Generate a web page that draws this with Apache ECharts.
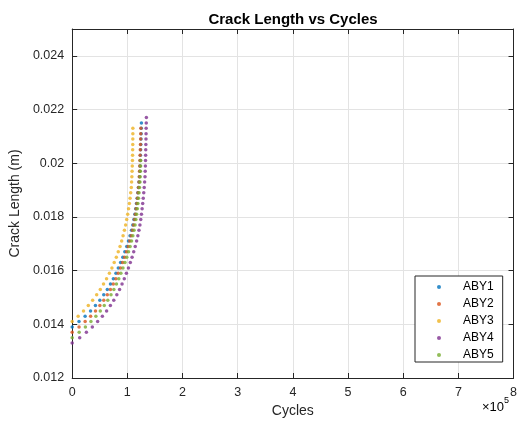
<!DOCTYPE html>
<html>
<head>
<meta charset="utf-8">
<script src="https://cdn.jsdelivr.net/npm/echarts@6/dist/echarts.min.js"></script>
<style>
html,body{margin:0;padding:0;background:#fff;}
#c{width:520px;height:427px;}
</style>
</head>
<body>
<div id="c"></div>
<script>
const seriesNames = ['ABY1', 'ABY2', 'ABY3', 'ABY4', 'ABY5'];
const seriesColors = ['#0072BD', '#D95319', '#EDB120', '#7E2F8E', '#77AC30'];

const ABY1_cycles = [0, 12390, 23440, 33330, 42180, 50120, 57250, 63660, 69440, 74650, 79360, 83610, 87760, 91750, 95430, 98910, 102030, 104910, 107490, 109870, 111880, 113640, 115160, 116550, 117830, 119000, 120070, 121060, 121970, 122510, 122980, 123400, 123760, 124070, 124430, 124750, 125030, 125280, 125500];
const ABY1_crack = [0.0139, 0.0141, 0.0143, 0.0145, 0.0147, 0.0149, 0.0151, 0.0153, 0.0155, 0.0157, 0.0159, 0.0161, 0.0163, 0.0165, 0.0167, 0.0169, 0.0171, 0.0173, 0.0175, 0.0177, 0.0179, 0.0181, 0.0183, 0.0185, 0.0187, 0.0189, 0.0191, 0.0193, 0.0195, 0.0197, 0.0199, 0.0201, 0.0203, 0.0205, 0.0207, 0.0209, 0.0211, 0.0213, 0.0215];

const ABY2_cycles = [0, 12440, 23520, 33400, 42250, 50170, 57270, 63650, 69390, 74560, 79220, 83430, 87540, 91480, 95110, 98540, 101620, 104470, 107000, 109350, 111320, 113040, 114530, 115880, 117130, 118270, 119320, 120280, 121170, 121680, 122130, 122520, 122860, 123150, 123500, 123800, 124070, 124300, 124500];
const ABY2_crack = [0.0137, 0.0139, 0.0141, 0.0143, 0.0145, 0.0147, 0.0149, 0.0151, 0.0153, 0.0155, 0.0157, 0.0159, 0.0161, 0.0163, 0.0165, 0.0167, 0.0169, 0.0171, 0.0173, 0.0175, 0.0177, 0.0179, 0.0181, 0.0183, 0.0185, 0.0187, 0.0189, 0.0191, 0.0193, 0.0195, 0.0197, 0.0199, 0.0201, 0.0203, 0.0205, 0.0207, 0.0209, 0.0211, 0.0213];

const ABY3_cycles = [0, 10830, 20530, 29200, 37080, 44380, 50960, 56830, 62330, 67450, 72020, 76190, 80020, 83520, 86750, 89720, 92250, 94690, 96930, 98810, 100630, 102220, 103680, 104940, 106080, 107140, 107700, 108180, 108590, 108940, 109230, 109480, 109660, 109810, 109910, 109970, 110000];
const ABY3_crack = [0.0141, 0.0143, 0.0145, 0.0147, 0.0149, 0.0151, 0.0153, 0.0155, 0.0157, 0.0159, 0.0161, 0.0163, 0.0165, 0.0167, 0.0169, 0.0171, 0.0173, 0.0175, 0.0177, 0.0179, 0.0181, 0.0183, 0.0185, 0.0187, 0.0189, 0.0191, 0.0193, 0.0195, 0.0197, 0.0199, 0.0201, 0.0203, 0.0205, 0.0207, 0.0209, 0.0211, 0.0213];

const ABY4_cycles = [0, 13640, 25750, 36530, 46140, 54710, 62380, 69240, 75400, 80930, 85910, 90390, 94430, 98280, 101980, 105360, 108570, 111530, 114270, 116800, 119050, 121030, 122770, 124280, 125560, 126740, 127820, 128810, 129720, 130550, 131320, 132030, 132380, 132680, 132930, 133140, 133320, 133550, 133760, 133930, 134080, 134300, 134500];
const ABY4_crack = [0.0133, 0.0135, 0.0137, 0.0139, 0.0141, 0.0143, 0.0145, 0.0147, 0.0149, 0.0151, 0.0153, 0.0155, 0.0157, 0.0159, 0.0161, 0.0163, 0.0165, 0.0167, 0.0169, 0.0171, 0.0173, 0.0175, 0.0177, 0.0179, 0.0181, 0.0183, 0.0185, 0.0187, 0.0189, 0.0191, 0.0193, 0.0195, 0.0197, 0.0199, 0.0201, 0.0203, 0.0205, 0.0207, 0.0209, 0.0211, 0.0213, 0.0215, 0.0217];

const ABY5_cycles = [0, 12670, 23940, 33980, 42950, 50970, 58140, 64580, 70370, 75570, 80250, 84480, 88300, 92050, 95670, 99000, 102170, 105010, 107630, 109970, 112130, 113940, 115510, 116860, 118090, 119220, 120250, 121200, 122070, 122880, 123320, 123690, 124020, 124300];
const ABY5_crack = [0.0135, 0.0137, 0.0139, 0.0141, 0.0143, 0.0145, 0.0147, 0.0149, 0.0151, 0.0153, 0.0155, 0.0157, 0.0159, 0.0161, 0.0163, 0.0165, 0.0167, 0.0169, 0.0171, 0.0173, 0.0175, 0.0177, 0.0179, 0.0181, 0.0183, 0.0185, 0.0187, 0.0189, 0.0191, 0.0193, 0.0195, 0.0197, 0.0199, 0.0201];

const xTickLabels = ['0', '1', '2', '3', '4', '5', '6', '7', '8'];
const yTickLabels = ['0.012', '0.014', '0.016', '0.018', '0.02', '0.022', '0.024'];

const allCycles = [ABY1_cycles, ABY2_cycles, ABY3_cycles, ABY4_cycles, ABY5_cycles];
const allCrack = [ABY1_crack, ABY2_crack, ABY3_crack, ABY4_crack, ABY5_crack];

const FONT = '"Liberation Sans", Arial, Helvetica, sans-serif';
const AX = '#262626';

function pairs(x, y) { return x.map((v, i) => [v, y[i]]); }

const chart = echarts.init(document.getElementById('c'), null, {renderer: 'canvas'});

const xBase = {
  type: 'value', min: 0, max: 800000, interval: 100000,
  axisLine: {show: true, onZero: false, lineStyle: {color: AX, width: 1}},
  axisTick: {show: true, inside: true, length: 5, lineStyle: {color: AX}},
  splitLine: {show: false}
};
const yBase = {
  type: 'value', min: 0.012, max: 0.025, interval: 0.002,
  axisLine: {show: true, onZero: false, lineStyle: {color: AX, width: 1}},
  axisTick: {show: true, inside: true, length: 5, lineStyle: {color: AX}},
  splitLine: {show: false}
};

const option = {
  backgroundColor: '#ffffff',
  animation: false,
  title: {
    text: 'Crack Length vs Cycles',
    left: 288, top: 7, textAlign: 'center',
    textStyle: {fontFamily: FONT, fontSize: 15, fontWeight: 'bold', color: '#000'}
  },
  grid: {left: 72, right: 6, top: 29, bottom: 49, containLabel: false},
  legend: {
    data: seriesNames,
    orient: 'vertical',
    left: 415, top: 276,
    padding: [5, 9, 1, 22],
    itemWidth: 38, itemHeight: 4, itemGap: 5,
    icon: 'circle',
    borderColor: AX, borderWidth: 1,
    backgroundColor: '#fff',
    textStyle: {fontFamily: FONT, fontSize: 12, color: '#000', lineHeight: 12}
  },
  xAxis: [
    Object.assign({}, xBase, {
      position: 'bottom',
      name: 'Cycles', nameLocation: 'middle', nameGap: 26,
      nameTextStyle: {fontFamily: FONT, fontSize: 14, color: AX},
      axisLabel: {fontFamily: FONT, fontSize: 12.5, color: AX, margin: 8,
        formatter: (v) => xTickLabels[Math.round(v / 100000)]},
      splitLine: {show: true, lineStyle: {color: '#e3e3e3', width: 1}}
    }),
    Object.assign({}, xBase, {position: 'top', axisLabel: {show: false}})
  ],
  yAxis: [
    Object.assign({}, yBase, {
      position: 'left',
      name: 'Crack Length (m)', nameLocation: 'middle', nameGap: 43,
      nameTextStyle: {fontFamily: FONT, fontSize: 14, color: AX},
      axisLabel: {fontFamily: FONT, fontSize: 12.5, color: AX, margin: 8,
        formatter: (v) => yTickLabels[Math.round((v - 0.012) / 0.002)] || ''},
      splitLine: {show: true, lineStyle: {color: '#e3e3e3', width: 1}}
    }),
    Object.assign({}, yBase, {position: 'right', axisLabel: {show: false}})
  ],
  graphic: [{
    type: 'text', left: 482, top: 396,
    style: {
      text: '{a|×10}{b|5}',
      rich: {
        a: {fontFamily: FONT, fontSize: 13, color: AX, verticalAlign: 'bottom', lineHeight: 18},
        b: {fontFamily: FONT, fontSize: 9, color: AX, verticalAlign: 'top', lineHeight: 18}
      }
    }
  }],
  series: seriesNames.map((n, i) => ({
    name: n,
    type: 'scatter',
    xAxisIndex: 0, yAxisIndex: 0,
    symbol: 'circle',
    symbolSize: 3.5,
    itemStyle: {color: seriesColors[i]},
    data: pairs(allCycles[i], allCrack[i])
  }))
};
chart.setOption(option);
</script>
</body>
</html>
